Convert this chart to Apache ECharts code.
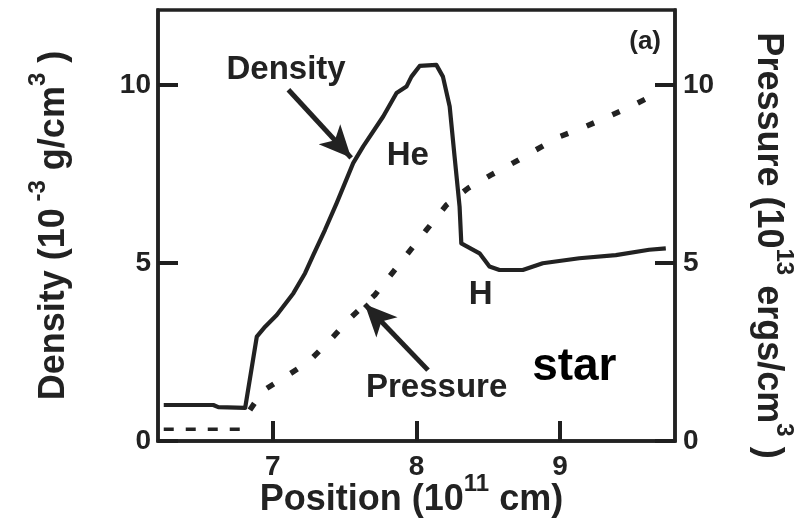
<!DOCTYPE html>
<html>
<head>
<meta charset="utf-8">
<script src="https://cdn.jsdelivr.net/npm/echarts@6/dist/echarts.min.js"></script>
<style>
  html, body { margin: 0; padding: 0; background: #fff; }
  #chart { width: 808px; height: 522px; }
</style>
</head>
<body>
<div id="chart"></div>
<script>
// Position along the star, in units of 10^11 cm
const densityX = [6.24, 6.585, 6.62, 6.807, 6.888, 6.946, 7.027, 7.143, 7.224, 7.281, 7.363, 7.444, 7.559, 7.629, 7.768, 7.861, 7.930, 7.965, 8.022, 8.138, 8.184, 8.231, 8.265, 8.300, 8.312, 8.439, 8.508, 8.578, 8.740, 8.879, 9.134, 9.388, 9.620, 9.736];
// Density, 10^-3 g/cm^3
const densityY = [1.01, 1.01, 0.95, 0.93, 2.93, 3.21, 3.54, 4.15, 4.71, 5.22, 5.93, 6.68, 7.80, 8.27, 9.11, 9.77, 9.95, 10.23, 10.53, 10.56, 10.23, 9.39, 7.99, 6.58, 5.55, 5.27, 4.90, 4.80, 4.80, 4.99, 5.13, 5.22, 5.37, 5.41];

// Pressure, 10^13 ergs/cm^3 (ambient level ahead of the front, then the rising profile)
const pressureFloorX = [6.24, 6.80];
const pressureFloorY = [0.33, 0.33];
const pressureX = [6.84, 6.93, 7.09, 7.25, 7.40, 7.55, 7.71, 7.84, 7.95, 8.07, 8.21, 8.36, 8.52, 8.68, 8.83, 9.00, 9.15, 9.31, 9.47, 9.63, 9.68];
const pressureY = [0.87, 1.41, 1.81, 2.23, 2.84, 3.49, 4.10, 4.76, 5.32, 5.93, 6.63, 7.10, 7.47, 7.82, 8.17, 8.55, 8.78, 9.06, 9.35, 9.67, 9.78];

// Tick spacing on each axis
const xTickStep = 1;
const yTickStep = 5;

const INK = '#222';
const TICK_INK = '#1f1f1f';
const FONT = '"Liberation Sans", Arial, Helvetica, sans-serif';

const zip = (xs, ys) => xs.map((x, i) => [x, ys[i]]);

const chart = echarts.init(document.getElementById('chart'), null, { renderer: 'canvas' });

const tickLabel = {
  fontSize: 28, fontWeight: 'bold', color: INK, fontFamily: FONT
};
// Each axis gets its own style objects
function ticks() {
  return { show: true, inside: true, length: 20, lineStyle: { width: 4, color: TICK_INK } };
}
function axisLine() {
  return { show: true, lineStyle: { width: 3.5, color: INK } };
}

function valueAxis(extra, margin) {
  return Object.assign({
    type: 'value',
    min: 0,
    max: 12.1,
    interval: yTickStep,
    z: 20,
    axisLine: axisLine(),
    splitLine: { show: false },
    axisTick: ticks(),
    axisLabel: Object.assign({ margin: margin, showMaxLabel: false }, tickLabel)
  }, extra);
}

const arrowStyle = {
  silent: true,
  symbol: ['none', 'arrow'],
  symbolSize: [22, 32],
  label: { show: false },
  emphasis: { disabled: true },
  lineStyle: { type: 'solid', width: 5, color: INK }
};

chart.setOption({
  animation: false,
  backgroundColor: '#fff',
  grid: {
    left: 158, right: 133, top: 10, bottom: 81,
    show: true, borderColor: INK, borderWidth: 3.5, backgroundColor: 'transparent'
  },
  xAxis: {
    type: 'value',
    min: 6.2,
    max: 9.8,
    minInterval: xTickStep,
    maxInterval: xTickStep,
    z: 20,
    axisLine: axisLine(),
    splitLine: { show: false },
    axisTick: ticks(),
    axisLabel: Object.assign({ margin: 12, showMinLabel: false, showMaxLabel: false }, tickLabel)
  },
  yAxis: [
    valueAxis({ position: 'left' }, 7),
    valueAxis({ position: 'right' }, 8)
  ],
  series: [
    {
      name: 'Density',
      type: 'line',
      yAxisIndex: 0,
      data: zip(densityX, densityY),
      symbol: 'none',
      lineStyle: { color: INK, width: 4.2, join: 'round' },
      markLine: Object.assign({}, arrowStyle, {
        data: [[{ coord: [7.108, 9.86] }, { coord: [7.545, 7.95] }]]
      })
    },
    {
      name: 'Pressure ambient',
      type: 'line',
      yAxisIndex: 1,
      data: zip(pressureFloorX, pressureFloorY),
      symbol: 'none',
      lineStyle: { color: INK, width: 3.5, type: [10, 12] }
    },
    {
      name: 'Pressure',
      type: 'line',
      yAxisIndex: 1,
      data: zip(pressureX, pressureY),
      symbol: 'none',
      lineStyle: { color: INK, width: 5.5, type: [8, 20], cap: 'butt' },
      markLine: Object.assign({}, arrowStyle, {
        data: [[{ coord: [8.08, 1.99] }, { coord: [7.64, 3.84] }]]
      })
    }
  ]
});

// Text annotations anchored in data coordinates
const notes = [
  { text: 'Density', at: [7.092, 10.42], size: 33, color: INK },
  { text: 'He', at: [7.939, 8.01], size: 33, color: INK },
  { text: 'H', at: [8.446, 4.10], size: 33, color: INK },
  { text: 'Pressure', at: [8.140, 1.49], size: 33, color: INK },
  { text: 'star', at: [9.099, 2.08], size: 46, color: '#000' },
  { text: '(a)', at: [9.592, 11.21], size: 26, color: INK }
];

const noteGraphics = notes.map(n => {
  const p = chart.convertToPixel({ gridIndex: 0 }, n.at);
  return {
    type: 'text',
    x: p[0], y: p[1],
    silent: true,
    style: {
      text: n.text,
      fill: n.color,
      font: 'bold ' + n.size + 'px ' + FONT,
      align: 'center',
      verticalAlign: 'middle'
    }
  };
});

// Axis titles with superscripted exponents
const titleRich = {
  b: { fontSize: 36, fontWeight: 'bold', fontFamily: FONT, fill: INK, lineHeight: 46, verticalAlign: 'bottom' },
  s: { fontSize: 24, fontWeight: 'bold', fontFamily: FONT, fill: INK, lineHeight: 20, verticalAlign: 'top' }
};

function title(text, x, y, rotation) {
  return {
    type: 'text', x: x, y: y, rotation: rotation, silent: true,
    style: { text: text, rich: titleRich, align: 'center', verticalAlign: 'middle', fill: INK }
  };
}

const gridRect = chart.getModel().getComponent('grid').coordinateSystem.getRect();
const midY = gridRect.y + gridRect.height / 2;
const midX = gridRect.x + gridRect.width / 2;

chart.setOption({
  graphic: noteGraphics.concat([
    title('{b|Density (10}{s| -3}{b| g/cm}{s|3}{b| )}', gridRect.x - 109, midY, Math.PI / 2),
    title('{b|Pressure (10}{s|13}{b| ergs/cm}{s|3}{b| )}', gridRect.x + gridRect.width + 98, midY + 20, -Math.PI / 2),
    title('{b|Position (10}{s|11}{b| cm)}', midX - 5, gridRect.y + gridRect.height + 54, 0)
  ])
});
</script>
</body>
</html>
